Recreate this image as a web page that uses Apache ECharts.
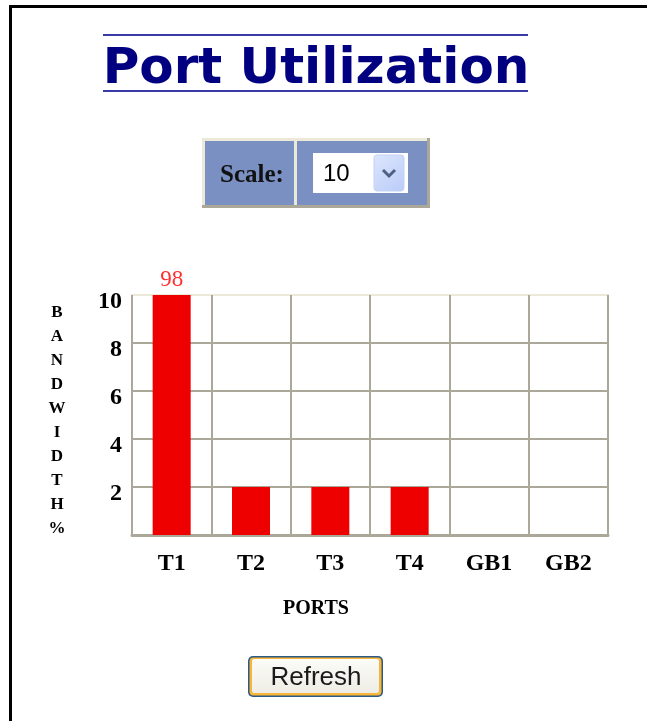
<!DOCTYPE html>
<html>
<head>
<meta charset="utf-8">
<script src="https://cdn.jsdelivr.net/npm/echarts@6/dist/echarts.min.js"></script>
<style>
html,body{margin:0;padding:0;background:#fff;}
#chart{width:647px;height:721px;}
</style>
</head>
<body>
<div id="chart"></div>
<script>
// ---- data ----
const ports = ['T1', 'T2', 'T3', 'T4', 'GB1', 'GB2'];
const utilization = [98, 2, 2, 2, 0, 0];
const scaleMax = 10;
const scaleStep = 2;
const titleText = 'Port Utilization';
const yAxisTitle = 'BANDWIDTH%';
const xAxisTitle = 'PORTS';
const scaleLabel = 'Scale:';
const scaleValue = '10';
const buttonText = 'Refresh';

const serif = '"Liberation Serif", "Times New Roman", serif';
const gridLine = '#aca899';

const chart = echarts.init(document.getElementById('chart'), null, {renderer: 'canvas'});

const barData = utilization.map(v => ({
  value: Math.min(v, scaleMax),
  label: {show: v > scaleMax, formatter: String(v)}
}));

const yNameRich = yAxisTitle.split('').map(c => '{n|' + c + '}').join('\n');

chart.setOption({
  animation: false,
  backgroundColor: '#ffffff',
  grid: {
    left: 132, right: 39, top: 295, bottom: 186,
    show: true, borderColor: '#ece9d8', borderWidth: 2, backgroundColor: '#ffffff'
  },
  xAxis: {
    type: 'category',
    data: ports,
    boundaryGap: true,
    axisLine: {show: true, lineStyle: {color: gridLine, width: 3}},
    axisTick: {show: false},
    splitLine: {show: true, lineStyle: {color: gridLine, width: 2}},
    axisLabel: {
      color: '#000', fontFamily: serif, fontWeight: 'bold', fontSize: 24, margin: 17
    },
    name: xAxisTitle,
    nameLocation: 'middle',
    nameGap: 64,
    nameTextStyle: {
      color: '#000', fontFamily: serif, fontWeight: 'bold', fontSize: 20,
      align: 'center', padding: [0, 108, 0, 0]
    }
  },
  yAxis: {
    type: 'value',
    min: 0, max: scaleMax, interval: scaleStep,
    axisLine: {show: false},
    axisTick: {show: false},
    splitLine: {show: true, showMaxLine: false, showMinLine: false, lineStyle: {color: gridLine, width: 2}},
    axisLabel: {
      margin: 10,
      formatter: v => (v === 0 ? '' : '{v|' + v + '}'),
      rich: {
        v: {color: '#000', fontFamily: serif, fontWeight: 'bold', fontSize: 24, padding: [14, 0, 0, 0]}
      }
    },
    name: yNameRich,
    nameLocation: 'middle',
    nameRotate: 0,
    nameGap: 75,
    nameTextStyle: {
      align: 'center', verticalAlign: 'middle',
      rich: {
        n: {color: '#000', fontFamily: serif, fontWeight: 'bold', fontSize: 17, lineHeight: 24, padding: [12, 0, 0, 0]}
      }
    }
  },
  series: [{
    type: 'bar',
    data: barData,
    barWidth: 38,
    itemStyle: {color: '#ee0000'},
    clip: true,
    label: {
      position: 'top', distance: 4, color: '#ff3030',
      fontFamily: serif, fontSize: 23
    }
  }],
  graphic: [
    // page frame
    {type: 'rect', shape: {x: 9, y: 5, width: 3, height: 716}, style: {fill: '#000'}},
    {type: 'rect', shape: {x: 9, y: 5, width: 638, height: 3}, style: {fill: '#000'}},
    // title lines
    {type: 'rect', shape: {x: 103, y: 34, width: 425, height: 2}, style: {fill: '#3c3ca8'}},
    {type: 'rect', shape: {x: 103, y: 90, width: 425, height: 2}, style: {fill: '#3c3ca8'}},
    {type: 'text', x: 316, y: 95, style: {
      text: titleText, fill: '#000080', fontFamily: '"DejaVu Sans", Verdana, sans-serif',
      fontWeight: 'bold', fontSize: 50, textAlign: 'center', textVerticalAlign: 'bottom'
    }},
    // scale box (beveled)
    {type: 'rect', shape: {x: 202, y: 138, width: 228, height: 70}, style: {fill: '#aca899'}},
    {type: 'rect', shape: {x: 202, y: 138, width: 225, height: 67}, style: {fill: '#ece9d8'}},
    {type: 'rect', shape: {x: 205, y: 141, width: 222, height: 64}, style: {fill: '#7a90c2'}},
    {type: 'rect', shape: {x: 294, y: 141, width: 3, height: 64}, style: {fill: '#ece9d8'}},
    {type: 'text', x: 252, y: 176, style: {
      text: scaleLabel, fill: '#111', fontFamily: serif, fontWeight: 'bold', fontSize: 25,
      textAlign: 'center', textVerticalAlign: 'middle'
    }},
    {type: 'rect', shape: {x: 313, y: 153, width: 95, height: 40}, style: {fill: '#ffffff'}},
    {type: 'text', x: 323, y: 174, style: {
      text: scaleValue, fill: '#000', fontFamily: '"Liberation Sans", Arial, sans-serif', fontSize: 24,
      textAlign: 'left', textVerticalAlign: 'middle'
    }},
    {type: 'rect', shape: {x: 374, y: 155, width: 30, height: 36, r: 3}, style: {
      fill: new echarts.graphic.LinearGradient(0, 0, 1, 1, [
        {offset: 0, color: '#dde6fd'}, {offset: 1, color: '#b9cbf7'}
      ]), stroke: '#c3d1f5', lineWidth: 1
    }},
    {type: 'polyline', shape: {points: [[383, 170], [389, 176], [395, 170]]}, style: {
      stroke: '#4d6185', lineWidth: 3, fill: null
    }},
    // refresh button
    {type: 'rect', shape: {x: 248, y: 656, width: 135, height: 41, r: 5}, style: {fill: '#2c5a86'}},
    {type: 'rect', shape: {x: 249.5, y: 657.5, width: 132, height: 38, r: 4}, style: {fill: '#f7b53a'}},
    {type: 'rect', shape: {x: 252, y: 659, width: 127, height: 34, r: 2}, style: {
      fill: new echarts.graphic.LinearGradient(0, 0, 0, 1, [
        {offset: 0, color: '#fbfbf8'}, {offset: 1, color: '#eeede5'}
      ])
    }},
    {type: 'text', x: 316, y: 678, style: {
      text: buttonText, fill: '#1a1a1a', fontFamily: '"Liberation Sans", Arial, sans-serif', fontSize: 26,
      textAlign: 'center', textVerticalAlign: 'middle'
    }}
  ]
});
</script>
</body>
</html>
